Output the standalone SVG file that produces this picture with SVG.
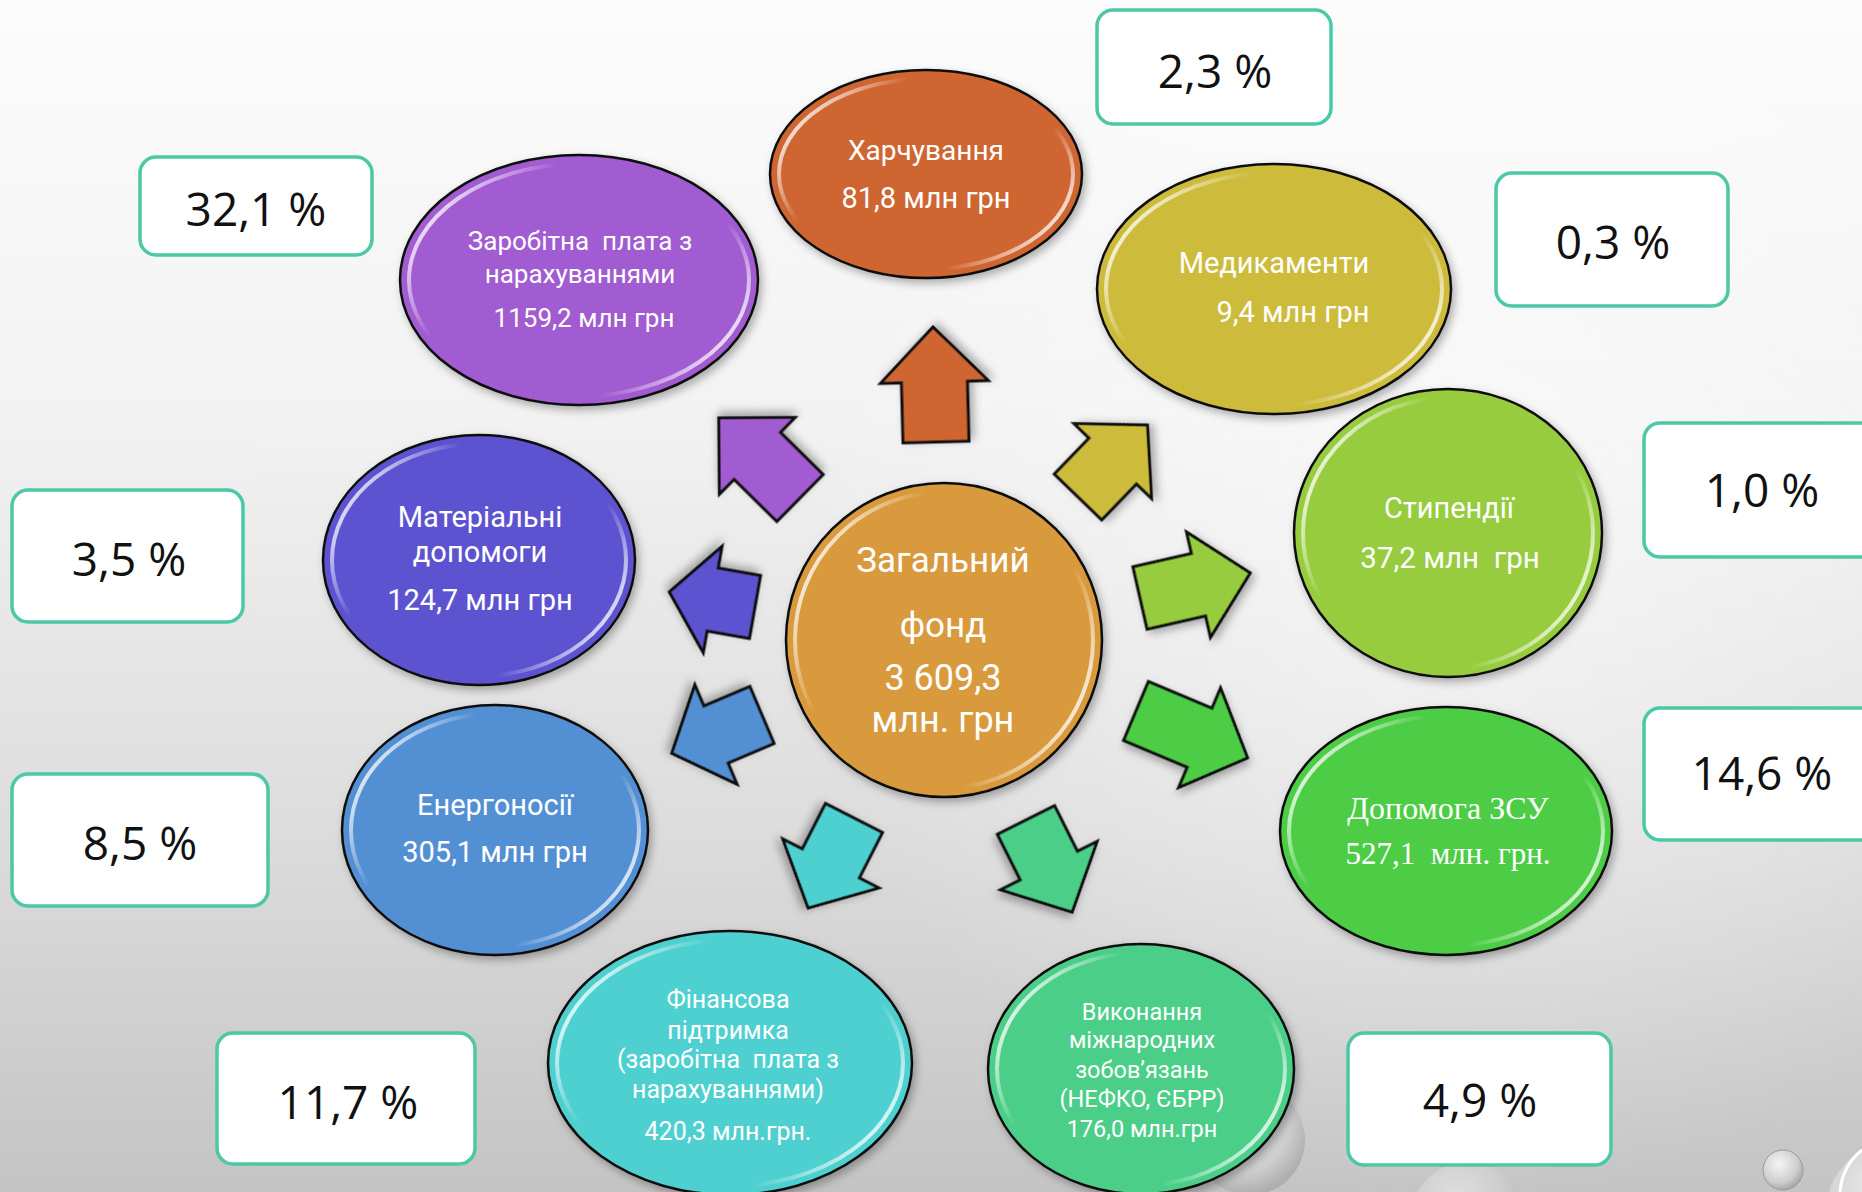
<svg xmlns="http://www.w3.org/2000/svg" width="1862" height="1192" viewBox="0 0 1862 1192">
  <defs>
    <linearGradient id="bg" x1="0" y1="0" x2="0" y2="1">
      <stop offset="0" stop-color="#fcfcfc"/>
      <stop offset="0.35" stop-color="#f2f2f2"/>
      <stop offset="0.7" stop-color="#dcdcdc"/>
      <stop offset="1" stop-color="#c4c4c4"/>
    </linearGradient>
    <radialGradient id="bgspot" cx="1450" cy="560" r="650" gradientUnits="userSpaceOnUse">
      <stop offset="0" stop-color="#ffffff" stop-opacity="0.55"/>
      <stop offset="1" stop-color="#ffffff" stop-opacity="0"/>
    </radialGradient>
    <linearGradient id="hl" x1="0" y1="0.25" x2="1" y2="0.75">
      <stop offset="0" stop-color="#ffffff" stop-opacity="0.95"/>
      <stop offset="0.25" stop-color="#ffffff" stop-opacity="0"/>
      <stop offset="0.75" stop-color="#ffffff" stop-opacity="0"/>
      <stop offset="1" stop-color="#ffffff" stop-opacity="0.95"/>
    </linearGradient>
    <radialGradient id="drop" cx="0.4" cy="0.35" r="0.65">
      <stop offset="0" stop-color="#f4f4f4"/>
      <stop offset="0.7" stop-color="#cfcfcf"/>
      <stop offset="1" stop-color="#a9a9a9"/>
    </radialGradient>
    <filter id="sh" x="-10%" y="-10%" width="125%" height="125%">
      <feDropShadow dx="3" dy="4" stdDeviation="4" flood-color="#000" flood-opacity="0.3"/>
    </filter>
    <style>
      .node { stroke: #111; stroke-width: 2.5; filter: url(#sh); }
      .gloss { fill: none; stroke: url(#hl); stroke-width: 4; }
      .lbl { font-family: Roboto, "Noto Sans", "DejaVu Sans", sans-serif; fill: #ffffff; text-anchor: middle; }
      .serif { font-family: "Liberation Serif", "Times New Roman", serif; fill: #ffffff; text-anchor: middle; }
      .box { fill: #ffffff; stroke: #4bc8a6; stroke-width: 3.5; }
      .pct { font-family: "Open Sans", "Noto Sans", "DejaVu Sans", sans-serif; font-size: 46px; fill: #111; text-anchor: middle; }
      .arr { stroke: #111; stroke-width: 3; stroke-linejoin: miter; filter: url(#sh); }
    </style>
  </defs>

  <rect x="0" y="0" width="1862" height="1192" fill="url(#bg)"/>
  <rect x="0" y="0" width="1862" height="1192" fill="url(#bgspot)"/>

  <!-- decorative droplets -->
  <g id="droplets">
    <circle cx="1250" cy="1140" r="55" fill="url(#drop)" opacity="0.8"/>
    <circle cx="1468" cy="1220" r="58" fill="url(#drop)" opacity="0.6"/>
    <circle cx="1783" cy="1170" r="20" fill="url(#drop)" stroke="#9a9a9a" stroke-width="1"/>
    <circle cx="1900" cy="1215" r="75" fill="url(#drop)" opacity="0.9"/>
    <path d="M1840 1192 A 60 60 0 0 1 1862 1150" fill="none" stroke="#ffffff" stroke-width="3"/>
  </g>

  <!-- connectors (block arrows) -->
  <g id="connectors">
    <g transform="translate(936,442) rotate(-91.5)">
      <polygon class="arr" fill="#cf6632" points="0,-33 60,-33 60,-54 115,0 60,54 60,33 0,33"/>
    </g>
    <g transform="translate(800,498) rotate(-135.4)">
      <polygon class="arr" fill="#a25cd1" points="0,-33 60,-33 60,-54 114,0 60,54 60,33 0,33"/>
    </g>
    <g transform="translate(1078,497) rotate(-46)">
      <polygon class="arr" fill="#cdbb3a" points="0,-33 50,-33 50,-54 100,0 50,54 50,33 0,33"/>
    </g>
    <g transform="translate(755,607) rotate(-170)">
      <polygon class="arr" fill="#5d52d0" points="0,-32 43,-32 43,-54 87,0 43,54 43,32 0,32"/>
    </g>
    <g transform="translate(762,715) rotate(157)">
      <polygon class="arr" fill="#528fd3" points="0,-31 50,-31 50,-54 98,0 50,54 50,31 0,31"/>
    </g>
    <g transform="translate(1140,598) rotate(-12.8)">
      <polygon class="arr" fill="#96cc3e" points="0,-32 60,-32 60,-54 113,0 60,54 60,32 0,32"/>
    </g>
    <g transform="translate(1136,711) rotate(22.8)">
      <polygon class="arr" fill="#4dcd45" points="0,-32 69,-32 69,-54 121,0 69,54 69,32 0,32"/>
    </g>
    <g transform="translate(854,818) rotate(117)">
      <polygon class="arr" fill="#4fd0d0" points="0,-32 51,-32 51,-54 101,0 51,54 51,32 0,32"/>
    </g>
    <g transform="translate(1026,820) rotate(63.4)">
      <polygon class="arr" fill="#4bce87" points="0,-32 51,-32 51,-54 103,0 51,54 51,32 0,32"/>
    </g>
  </g>

  <!-- center -->
  <g id="center">
    <ellipse class="node" cx="944" cy="640" rx="158" ry="157" fill="#d99a3c"/>
    <ellipse class="gloss" cx="944" cy="640" rx="149" ry="148"/>
    <text class="lbl" x="943" y="572" font-size="35">Загальний</text>
    <text class="lbl" x="943" y="637" font-size="35">фонд</text>
    <text class="lbl" x="943" y="690" font-size="36">3 609,3</text>
    <text class="lbl" x="943" y="732" font-size="36">млн. грн</text>
  </g>

  <g id="food">
    <ellipse class="node" cx="926" cy="174" rx="156" ry="104" fill="#cf6632"/>
    <ellipse class="gloss" cx="926" cy="174" rx="147" ry="95"/>
    <text class="lbl" x="926" y="160" font-size="28">Харчування</text>
    <text class="lbl" x="926" y="208" font-size="29">81,8 млн грн</text>
  </g>

  <g id="medicine">
    <ellipse class="node" cx="1274" cy="289" rx="177" ry="125" fill="#cdbb3a"/>
    <ellipse class="gloss" cx="1274" cy="289" rx="168" ry="116"/>
    <text class="lbl" x="1274" y="273" font-size="29">Медикаменти</text>
    <text class="lbl" x="1293" y="322" font-size="29">9,4 млн грн</text>
  </g>

  <g id="salary">
    <ellipse class="node" cx="579" cy="280" rx="179" ry="125" fill="#a25cd1"/>
    <ellipse class="gloss" cx="579" cy="280" rx="170" ry="116"/>
    <text class="lbl" x="580" y="250" font-size="26" xml:space="preserve">Заробітна  плата з</text>
    <text class="lbl" x="580" y="283" font-size="26">нарахуваннями</text>
    <text class="lbl" x="584" y="327" font-size="26">1159,2 млн грн</text>
  </g>

  <g id="material-aid">
    <ellipse class="node" cx="479" cy="560" rx="156" ry="125" fill="#5d52d0"/>
    <ellipse class="gloss" cx="479" cy="560" rx="147" ry="116"/>
    <text class="lbl" x="480" y="527" font-size="29">Матеріальні</text>
    <text class="lbl" x="480" y="562" font-size="29">допомоги</text>
    <text class="lbl" x="480" y="610" font-size="29">124,7 млн грн</text>
  </g>

  <g id="energy">
    <ellipse class="node" cx="495" cy="830" rx="153" ry="125" fill="#528fd3"/>
    <ellipse class="gloss" cx="495" cy="830" rx="144" ry="116"/>
    <text class="lbl" x="495" y="815" font-size="29">Енергоносії</text>
    <text class="lbl" x="495" y="862" font-size="29">305,1 млн грн</text>
  </g>

  <g id="stipends">
    <ellipse class="node" cx="1448" cy="533" rx="154" ry="144" fill="#96cc3e"/>
    <ellipse class="gloss" cx="1448" cy="533" rx="145" ry="135"/>
    <text class="lbl" x="1449" y="518" font-size="29">Стипендії</text>
    <text class="lbl" x="1450" y="568" font-size="29.5" xml:space="preserve">37,2 млн  грн</text>
  </g>

  <g id="army-aid">
    <ellipse class="node" cx="1446" cy="831" rx="166" ry="124" fill="#4dcd45"/>
    <ellipse class="gloss" cx="1446" cy="831" rx="157" ry="115"/>
    <text class="serif" x="1448" y="819" font-size="32">Допомога ЗСУ</text>
    <text class="serif" x="1448" y="864" font-size="31" xml:space="preserve">527,1  млн. грн.</text>
  </g>

  <g id="financial-support">
    <ellipse class="node" cx="730" cy="1063" rx="182" ry="132" fill="#4fd0d0"/>
    <ellipse class="gloss" cx="730" cy="1063" rx="173" ry="123"/>
    <text class="lbl" x="728" y="1008" font-size="25">Фінансова</text>
    <text class="lbl" x="728" y="1039" font-size="25">підтримка</text>
    <text class="lbl" x="728" y="1068" font-size="25" xml:space="preserve">(заробітна  плата з</text>
    <text class="lbl" x="728" y="1098" font-size="25">нарахуваннями)</text>
    <text class="lbl" x="728" y="1140" font-size="25">420,3 млн.грн.</text>
  </g>

  <g id="intl-obligations">
    <ellipse class="node" cx="1141" cy="1069" rx="153" ry="125" fill="#4bce87"/>
    <ellipse class="gloss" cx="1141" cy="1069" rx="144" ry="116"/>
    <text class="lbl" x="1142" y="1020" font-size="23.5">Виконання</text>
    <text class="lbl" x="1142" y="1048" font-size="23.5">міжнародних</text>
    <text class="lbl" x="1142" y="1078" font-size="23.5">зобов’язань</text>
    <text class="lbl" x="1142" y="1107" font-size="23.5">(НЕФКО, ЄБРР)</text>
    <text class="lbl" x="1142" y="1137" font-size="23.5">176,0 млн.грн</text>
  </g>

  <!-- percentage boxes -->
  <g id="pct-food"><rect class="box" x="1097" y="10" width="234" height="114" rx="16"/><text class="pct" x="1215" y="88">2,3 %</text></g>
  <g id="pct-medicine"><rect class="box" x="1496" y="173" width="232" height="133" rx="16"/><text class="pct" x="1613" y="259">0,3 %</text></g>
  <g id="pct-stipends"><rect class="box" x="1644" y="423" width="240" height="134" rx="16"/><text class="pct" x="1762" y="507">1,0 %</text></g>
  <g id="pct-army"><rect class="box" x="1644" y="708" width="240" height="132" rx="16"/><text class="pct" x="1762" y="790">14,6 %</text></g>
  <g id="pct-salary"><rect class="box" x="140" y="157" width="232" height="98" rx="16"/><text class="pct" x="256" y="226">32,1 %</text></g>
  <g id="pct-material"><rect class="box" x="12" y="490" width="231" height="132" rx="16"/><text class="pct" x="129" y="576">3,5 %</text></g>
  <g id="pct-energy"><rect class="box" x="12" y="774" width="256" height="132" rx="16"/><text class="pct" x="140" y="860">8,5 %</text></g>
  <g id="pct-financial"><rect class="box" x="217" y="1033" width="258" height="131" rx="16"/><text class="pct" x="348" y="1119">11,7 %</text></g>
  <g id="pct-intl"><rect class="box" x="1348" y="1033" width="263" height="132" rx="16"/><text class="pct" x="1480" y="1117">4,9 %</text></g>
</svg>
